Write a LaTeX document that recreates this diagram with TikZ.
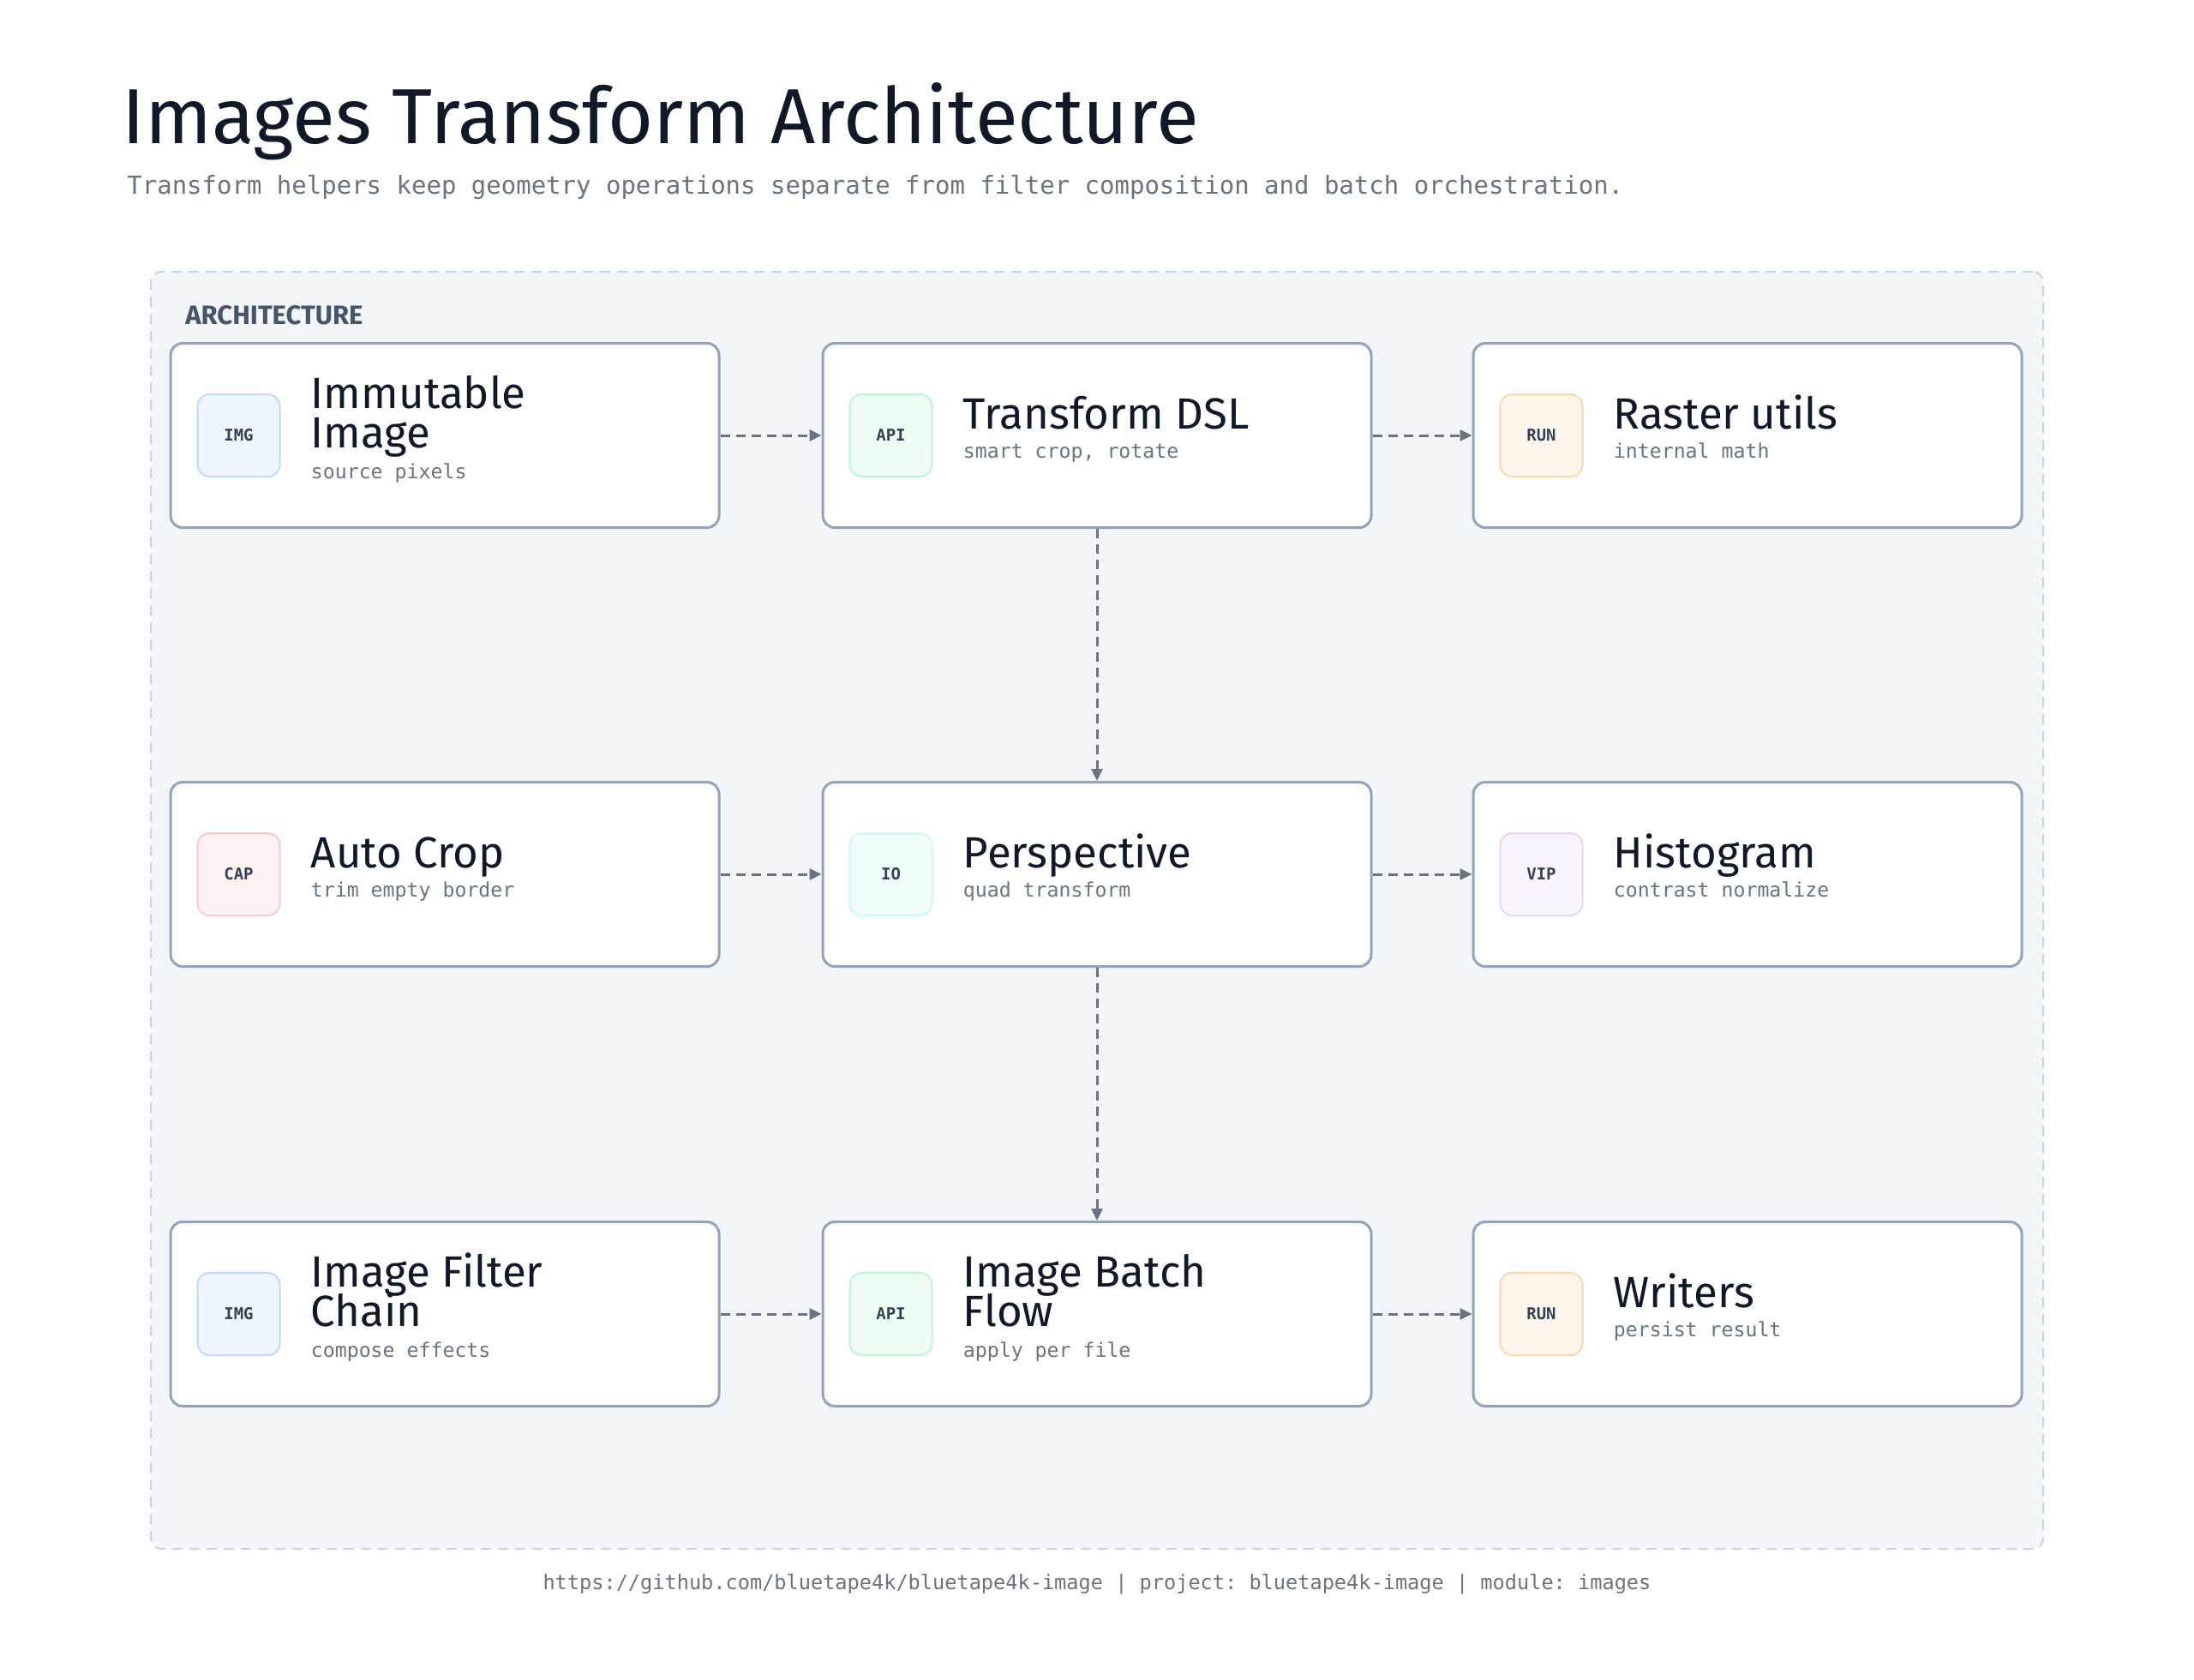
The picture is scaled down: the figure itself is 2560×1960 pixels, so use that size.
\documentclass[tikz,border=0pt]{standalone}
\usepackage{fontspec}
\setmainfont{Fira Sans}
\setmonofont{DejaVu Sans Mono}
\usetikzlibrary{arrows.meta,calc}
\definecolor{ink}{HTML}{111827}
\definecolor{muted}{HTML}{6B7280}
\definecolor{panelfill}{HTML}{F2F5FA}
\definecolor{panelline}{HTML}{CBD5E1}
\definecolor{cardline}{HTML}{94A3B8}
\definecolor{flowline}{HTML}{6B7280}
\definecolor{icontext}{HTML}{334155}
\definecolor{labelc}{HTML}{475569}
\definecolor{imgfill}{HTML}{EFF6FF}\definecolor{imgline}{HTML}{BFDBFE}
\definecolor{apifill}{HTML}{F0FDF4}\definecolor{apiline}{HTML}{BBF7D0}
\definecolor{runfill}{HTML}{FFF7ED}\definecolor{runline}{HTML}{FED7AA}
\definecolor{capfill}{HTML}{FEF2F2}\definecolor{capline}{HTML}{FECACA}
\definecolor{iofill}{HTML}{F0FDFA}\definecolor{ioline}{HTML}{CCFBF1}
\definecolor{vipfill}{HTML}{FAF5FF}\definecolor{vipline}{HTML}{E9D5FF}
\newcommand\cardone[7]{%
  \node[card] (#1) at (#2,#3) {};
  \node[#5] (#1-icon) at ($(#1.west)+(81,0)$) {#4};
  \node[ctitle, anchor=base west] (#1-title) at ($(#1.west)+(165,-8)$) {#6};
  \node[csub, anchor=mid west] (#1-sub) at ($(#1.west)+(165,21)$) {#7};
}
\newcommand\cardtwo[8]{%
  \node[card] (#1) at (#2,#3) {};
  \node[#5] (#1-icon) at ($(#1.west)+(81,0)$) {#4};
  \node[ctitle, anchor=base west] (#1-title) at ($(#1.west)+(165,-32)$)
    {\vtop{\baselineskip=23pt\lineskiplimit=-100pt\lineskip=0pt\hbox{#6}\hbox{#7}}};
  \node[csub, anchor=mid west] (#1-sub) at ($(#1.west)+(165,45)$) {#8};
}
\begin{document}
\begin{tikzpicture}[x=0.5pt,y=-0.5pt,
  card/.style={draw=cardline, line width=1.5pt, fill=white, rounded corners=7pt,
    minimum width=320pt, minimum height=107.5pt, inner sep=0pt},
  iconbox/.style={line width=1pt, rounded corners=7pt, minimum width=48pt,
    minimum height=48pt, inner sep=0pt, text=icontext,
    font=\ttfamily\bfseries\fontsize{9.5}{11}\selectfont},
  imgicon/.style={iconbox, fill=imgfill, draw=imgline},
  apiicon/.style={iconbox, fill=apifill, draw=apiline},
  runicon/.style={iconbox, fill=runfill, draw=runline},
  capicon/.style={iconbox, fill=capfill, draw=capline},
  ioicon/.style={iconbox, fill=iofill, draw=ioline},
  vipicon/.style={iconbox, fill=vipfill, draw=vipline},
  ctitle/.style={inner sep=0pt, text=ink, font=\fontsize{25.5}{30}\selectfont},
  csub/.style={inner sep=0pt, text=muted, font=\ttfamily\fontsize{11.6}{14}\selectfont},
  flow/.style={draw=flowline, line width=1.5pt, dash pattern=on 5.5pt off 3.5pt,
    -{Triangle[length=7pt,width=6.5pt]}},
]
\useasboundingbox (0,0) rectangle (2560,1960);
\fill[white] (0,0) rectangle (2560,1960);

\node[anchor=base west, inner sep=0pt, text=ink, font=\fontsize{45.5}{54}\selectfont]
  (title) at (142,167) {Images Transform Architecture};
\node[anchor=mid west, inner sep=0pt, text=muted, font=\ttfamily\fontsize{14.5}{17}\selectfont]
  (subtitle) at (148,221) {Transform helpers keep geometry operations separate from filter composition and batch orchestration.};

\node[draw=panelline, fill=panelfill, line width=1pt, dash pattern=on 6pt off 4pt,
  rounded corners=6pt, minimum width=1104pt, minimum height=745pt, inner sep=0pt]
  (arch) at (1280,1062) {};
\node[anchor=mid west, inner sep=0pt, text=labelc, font=\bfseries\fontsize{15.5}{18}\selectfont]
  (archlabel) at (216,373) {ARCHITECTURE};

\cardtwo{imm}{519}{508}{IMG}{imgicon}{Immutable}{Image}{source pixels}
\cardone{dsl}{1280}{508}{API}{apiicon}{Transform DSL}{smart crop, rotate}
\cardone{raster}{2039}{508}{RUN}{runicon}{Raster utils}{internal math}
\cardone{crop}{519}{1020}{CAP}{capicon}{Auto Crop}{trim empty border}
\cardone{persp}{1280}{1020}{IO}{ioicon}{Perspective}{quad transform}
\cardone{hist}{2039}{1020}{VIP}{vipicon}{Histogram}{contrast normalize}
\cardtwo{chain}{519}{1533}{IMG}{imgicon}{Image Filter}{Chain}{compose effects}
\cardtwo{batch}{1280}{1533}{API}{apiicon}{Image Batch}{Flow}{apply per file}
\cardone{writers}{2039}{1533}{RUN}{runicon}{Writers}{persist result}

\draw[flow] (imm.east) -- (dsl.west);
\draw[flow] (dsl.east) -- (raster.west);
\draw[flow] (crop.east) -- (persp.west);
\draw[flow] (persp.east) -- (hist.west);
\draw[flow] (chain.east) -- (batch.west);
\draw[flow] (batch.east) -- (writers.west);
\draw[flow] (dsl.south) -- (persp.north);
\draw[flow] (persp.south) -- (batch.north);

\node[anchor=mid, inner sep=0pt, text=muted, font=\ttfamily\fontsize{11.8}{14}\selectfont]
  (footer) at (1280,1849) {https://github.com/bluetape4k/bluetape4k-image | project: bluetape4k-image | module: images};
\end{tikzpicture}
\end{document}
